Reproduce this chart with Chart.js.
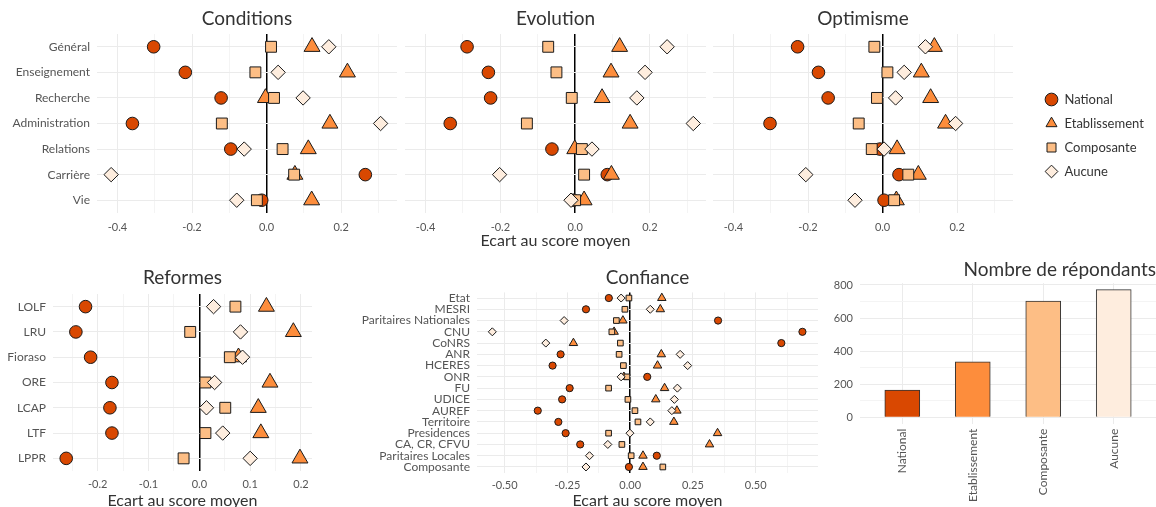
<!DOCTYPE html>
<html>
<head>
<meta charset="utf-8">
<title>Ecart au score moyen</title>
<script src="https://cdn.jsdelivr.net/npm/chart.js@4.4.1/dist/chart.umd.min.js"></script>
<style>
    html, body { margin: 0; padding: 0; background: #fff; }
    body { position: relative; width: 1156px; height: 507px; overflow: hidden; }
    .panel { position: absolute; }
</style>
</head>
<body>
<div class="panel" style="left:0;top:0;width:400px;height:250px"><canvas id="conditions"></canvas></div>
<div class="panel" style="left:400px;top:0;width:312px;height:250px"><canvas id="evolution"></canvas></div>
<div class="panel" style="left:710px;top:0;width:310px;height:250px"><canvas id="optimisme"></canvas></div>
<div class="panel" style="left:1034px;top:82px;width:320px;height:150px"><canvas id="legende"></canvas></div>
<div class="panel" style="left:0;top:255px;width:318px;height:255px"><canvas id="reformes"></canvas></div>
<div class="panel" style="left:318px;top:255px;width:504px;height:255px"><canvas id="confiance"></canvas></div>
<div class="panel" style="left:822px;top:255px;width:334px;height:252px"><canvas id="repondants"></canvas></div>

<script>
(function() {
    "use strict";

    var groups = ["National", "Etablissement", "Composante", "Aucune"];
    var themes = ["Général", "Enseignement", "Recherche", "Administration", "Relations", "Carrière", "Vie"];

    var condNational = [-0.303, -0.218, -0.122, -0.360, -0.096, 0.265, -0.013];
    var condEtab = [0.122, 0.217, -0.003, 0.170, 0.112, 0.076, 0.121];
    var condComp = [0.012, -0.030, 0.020, -0.120, 0.043, 0.074, -0.026];
    var condAucune = [0.167, 0.031, 0.098, 0.306, -0.060, -0.417, -0.080];

    var evolNational = [-0.289, -0.232, -0.226, -0.334, -0.062, 0.086, -0.005];
    var evolEtab = [0.119, 0.096, 0.072, 0.147, -0.001, 0.097, 0.024];
    var evolComp = [-0.072, -0.050, -0.009, -0.129, 0.018, 0.024, 0.000];
    var evolAucune = [0.246, 0.187, 0.165, 0.316, 0.045, -0.202, -0.011];

    var optiNational = [-0.228, -0.172, -0.146, -0.302, -0.007, 0.044, 0.004];
    var optiEtab = [0.139, 0.104, 0.129, 0.169, 0.039, 0.096, 0.037];
    var optiComp = [-0.022, 0.013, -0.015, -0.064, -0.029, 0.069, 0.031];
    var optiAucune = [0.115, 0.058, 0.035, 0.196, 0.004, -0.206, -0.074];

    var reformes = ["LOLF", "LRU", "Fioraso", "ORE", "LCAP", "LTF", "LPPR"];
    var refNational = [-0.224, -0.243, -0.214, -0.172, -0.176, -0.172, -0.262];
    var refEtab = [0.132, 0.185, 0.077, 0.139, 0.116, 0.121, 0.198];
    var refComp = [0.071, -0.018, 0.060, 0.012, 0.051, 0.012, -0.031];
    var refAucune = [0.028, 0.081, 0.085, 0.030, 0.014, 0.046, 0.100];

    var instances = ["Etat", "MESRI", "Paritaires Nationales", "CNU", "CoNRS", "ANR", "HCERES", "ONR",
        "FU", "UDICE", "AUREF", "Territoire", "Presidences", "CA, CR, CFVU", "Paritaires Locales", "Composante"];
    var confNational = [-0.085, -0.176, 0.350, 0.686, 0.602, -0.277, -0.309, 0.068,
        -0.241, -0.271, -0.368, -0.286, -0.257, -0.199, 0.106, -0.005];
    var confEtab = [0.126, 0.120, -0.029, -0.064, -0.226, 0.124, 0.109, -0.025,
        0.137, 0.102, 0.186, 0.174, 0.348, 0.316, 0.051, 0.051];
    var confComp = [-0.005, -0.021, -0.055, -0.073, -0.039, -0.044, -0.027, -0.013,
        -0.086, -0.009, 0.019, 0.031, -0.086, -0.033, 0.004, 0.130];
    var confAucune = [-0.036, 0.080, -0.263, -0.549, -0.336, 0.199, 0.229, -0.036,
        0.188, 0.176, 0.166, 0.080, -0.001, -0.089, -0.162, -0.176];

    var respondents = [165, 336, 703, 772];

    // styles
    var fills = ["#d94801", "#fd8d3c", "#fdbe85", "#feedde"];
    var shapes = ["circle", "triangle", "rect", "rectRot"];
    var bigSizes = [6.3, 9.2, 7.7, 7.2];
    var smallSizes = [3.6, 4.9, 4.0, 4.0];
    var outline = "#1a1a1a";
    var tickGrey = "#555";
    var textDark = "#333";

    Chart.defaults.font.family = "Lato, 'Open Sans', sans-serif";
    Chart.defaults.animation = false;

    function isMajor(v, major) {
        var k = v / major;
        return Math.abs(k - Math.round(k)) < 1e-6;
    }

    function dotPanel(id, cats, series, o) {
        var datasets = series.map(function(vals, g) {
            return {
                label: groups[g],
                data: vals.map(function(v, i) { return { x: v, y: cats[i] }; }),
                pointStyle: shapes[g],
                pointRadius: o.sizes[g],
                backgroundColor: fills[g],
                borderColor: outline,
                pointBorderWidth: 1,
                order: 3 - g
            };
        });

        return new Chart(document.getElementById(id), {
            type: "scatter",
            data: { datasets: datasets },
            options: {
                responsive: true,
                maintainAspectRatio: false,
                events: [],
                layout: { autoPadding: false, padding: o.padding },
                plugins: {
                    legend: { display: false },
                    tooltip: { enabled: false },
                    title: {
                        display: true,
                        text: o.title,
                        fullSize: false,
                        color: textDark,
                        font: { size: 19, weight: "normal" },
                        padding: o.titlePad
                    }
                },
                scales: {
                    x: {
                        type: "linear",
                        min: o.min,
                        max: o.max,
                        afterFit: function(s) {
                            s.height = o.xh;
                            s.paddingLeft = 0;
                            s.paddingRight = 0;
                        },
                        border: { display: false },
                        grid: {
                            drawTicks: false,
                            color: function(c) {
                                if (!c.tick) return "#ebebeb";
                                if (Math.abs(c.tick.value) < 1e-9) return "#000";
                                return isMajor(c.tick.value, o.major) ? "#ebebeb" : "#f4f4f4";
                            },
                            lineWidth: function(c) {
                                return c.tick && Math.abs(c.tick.value) < 1e-9 ? 1.5 : 1;
                            }
                        },
                        ticks: {
                            stepSize: o.step,
                            includeBounds: false,
                            autoSkip: false,
                            maxRotation: 0,
                            padding: o.tickPad,
                            color: tickGrey,
                            font: { size: 11 },
                            callback: function(v) {
                                if (!isMajor(v, o.major)) return "";
                                if (Math.abs(v) < 1e-9) v = 0;
                                return v.toFixed(o.digits);
                            }
                        },
                        title: {
                            display: !!o.xTitle,
                            text: o.xTitle || "",
                            color: textDark,
                            font: { size: 16 },
                            padding: 0
                        }
                    },
                    y: {
                        type: "category",
                        labels: cats,
                        offset: true,
                        afterFit: function(s) {
                            s.width = o.yw;
                            s.paddingTop = 0;
                            s.paddingBottom = 0;
                        },
                        border: { display: false },
                        grid: { drawTicks: false, offset: false, color: "#ebebeb" },
                        ticks: {
                            display: o.yw > 0,
                            autoSkip: false,
                            padding: 7,
                            color: tickGrey,
                            font: { size: o.yFont }
                        }
                    }
                }
            }
        });
    }

    var topAxis = { min: -0.455, max: 0.35, step: 0.1, major: 0.2, digits: 1, xh: 37, tickPad: 8,
        titlePad: { top: 7, bottom: 4.2 }, sizes: bigSizes, yFont: 12 };

    dotPanel("conditions", themes, [condNational, condEtab, condComp, condAucune],
        Object.assign({}, topAxis, { title: "Conditions", yw: 97, padding: { left: 0, right: 3 } }));
    dotPanel("evolution", themes, [evolNational, evolEtab, evolComp, evolAucune],
        Object.assign({}, topAxis, { title: "Evolution", yw: 0, padding: { left: 5, right: 6 },
            xTitle: "Ecart au score moyen" }));
    dotPanel("optimisme", themes, [optiNational, optiEtab, optiComp, optiAucune],
        Object.assign({}, topAxis, { title: "Optimisme", yw: 0, padding: { left: 3, right: 7 } }));

    dotPanel("reformes", reformes, [refNational, refEtab, refComp, refAucune], {
        title: "Reformes", min: -0.288, max: 0.2217, step: 0.05, major: 0.1, digits: 1,
        xh: 39, tickPad: 7, titlePad: { top: 11, bottom: 5.2 }, sizes: bigSizes, yFont: 12,
        yw: 53, padding: { left: 0, right: 6 }, xTitle: "Ecart au score moyen"
    });

    dotPanel("confiance", instances, [confNational, confEtab, confComp, confAucune], {
        title: "Confiance", min: -0.61, max: 0.748, step: 0.125, major: 0.25, digits: 2,
        xh: 37.4, tickPad: 6, titlePad: { top: 11, bottom: 3.6 }, sizes: smallSizes, yFont: 12,
        yw: 159, padding: { left: 0, right: 4 }, xTitle: "Ecart au score moyen"
    });

    // shared legend
    new Chart(document.getElementById("legende"), {
        type: "scatter",
        data: {
            datasets: groups.map(function(g, i) {
                return {
                    label: g,
                    data: [],
                    pointStyle: shapes[i],
                    backgroundColor: fills[i],
                    borderColor: outline,
                    pointBorderWidth: 1
                };
            })
        },
        options: {
            responsive: true,
            maintainAspectRatio: false,
            events: [],
            layout: { autoPadding: false },
            scales: { x: { display: false }, y: { display: false } },
            plugins: {
                tooltip: { enabled: false },
                legend: {
                    position: "left",
                    align: "start",
                    labels: {
                        usePointStyle: true,
                        boxHeight: 9,
                        padding: 11,
                        color: textDark,
                        font: { size: 13 }
                    }
                }
            }
        }
    });

    // respondents per group
    new Chart(document.getElementById("repondants"), {
        type: "bar",
        data: {
            datasets: [{
                data: respondents.map(function(n, i) { return { x: i, y: n }; }),
                backgroundColor: fills,
                borderColor: "#333",
                borderWidth: 1,
                barThickness: 35
            }]
        },
        options: {
            responsive: true,
            maintainAspectRatio: false,
            events: [],
            layout: { autoPadding: false },
            plugins: {
                legend: { display: false },
                tooltip: { enabled: false },
                title: {
                    display: true,
                    text: "Nombre de répondants",
                    align: "end",
                    fullSize: false,
                    color: textDark,
                    font: { size: 19, weight: "normal" },
                    padding: { top: 3.6, bottom: 1.8 }
                }
            },
            scales: {
                x: {
                    type: "linear",
                    min: -0.6,
                    max: 3.6,
                    offset: false,
                    afterFit: function(s) {
                        s.height = 83.3;
                        s.paddingLeft = 0;
                        s.paddingRight = 0;
                    },
                    border: { display: false },
                    grid: { drawTicks: false, offset: false, color: "#ebebeb" },
                    ticks: {
                        stepSize: 1,
                        includeBounds: false,
                        autoSkip: false,
                        minRotation: 90,
                        maxRotation: 90,
                        padding: 5,
                        color: tickGrey,
                        font: { size: 12 },
                        callback: function(v) { return groups[v] || ""; }
                    }
                },
                y: {
                    min: -38.6,
                    max: 810.6,
                    afterFit: function(s) {
                        s.width = 38;
                        s.paddingTop = 0;
                        s.paddingBottom = 0;
                    },
                    border: { display: false },
                    grid: {
                        drawTicks: false,
                        color: function(c) {
                            return c.tick && c.tick.value % 200 === 0 ? "#ebebeb" : "#f4f4f4";
                        }
                    },
                    ticks: {
                        stepSize: 100,
                        includeBounds: false,
                        padding: 7,
                        color: tickGrey,
                        font: { size: 11 },
                        callback: function(v) { return v % 200 === 0 ? v : ""; }
                    }
                }
            }
        }
    });
})();
</script>
</body>
</html>
